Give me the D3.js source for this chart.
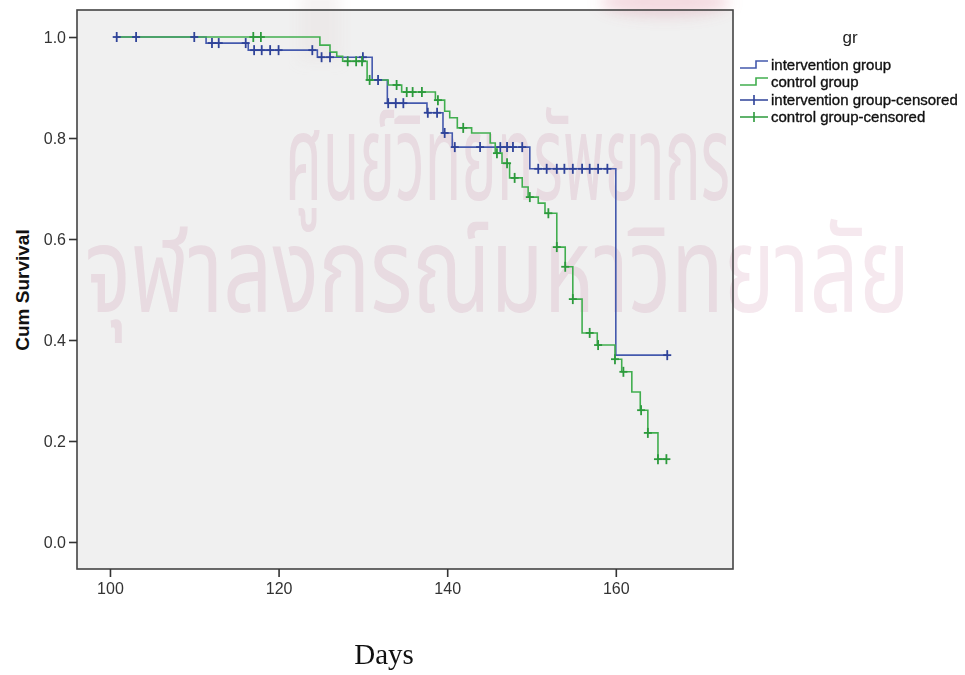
<!DOCTYPE html>
<html>
<head>
<meta charset="utf-8">
<script src="https://cdn.jsdelivr.net/npm/d3@7"></script>
<style>
  body { margin: 0; background: #ffffff; }
  svg { display: block; }
</style>
</head>
<body>
<div id="chart"></div>
<script>
// Kaplan-Meier curves: step times (days) and survival after each step
const groups = ["intervention group", "control group"];

const interStart = 100.8;
const interEnd = 166.1;
const interEventDays = [111.4, 116.4, 124.6, 131.1, 132.9, 137.6, 139.5, 140.6, 149.8, 160.0];
const interEventSurv = [0.988, 0.974, 0.960, 0.915, 0.869, 0.850, 0.810, 0.782, 0.739, 0.370];
const interCensorDays = [100.8, 103.1, 110.0, 112.1, 112.9, 116.1, 117.1, 118.0, 119.0, 120.0, 124.0,
  125.1, 126.1, 130.0, 131.8, 133.0, 133.9, 134.8, 137.7, 138.8, 139.7, 140.9, 143.9, 146.3, 147.1,
  147.8, 148.9, 150.8, 151.8, 153.0, 153.9, 154.9, 156.0, 156.9, 157.9, 159.0, 166.1];

const ctrlStart = 101.0;
const ctrlEnd = 166.0;
const ctrlEventDays = [124.9, 126.1, 126.9, 127.6, 130.5, 133.0, 134.6, 138.6, 139.7, 140.3, 141.2,
  142.9, 145.1, 145.7, 146.5, 147.4, 148.9, 149.6, 150.8, 151.6, 153.0, 154.0, 154.9, 156.0, 157.8,
  159.9, 160.7, 161.9, 162.9, 163.8, 165.0];
const ctrlEventSurv = [0.984, 0.970, 0.962, 0.952, 0.915, 0.905, 0.891, 0.875, 0.853, 0.840, 0.820,
  0.810, 0.790, 0.770, 0.750, 0.721, 0.703, 0.683, 0.671, 0.651, 0.584, 0.545, 0.481, 0.414, 0.390,
  0.362, 0.337, 0.297, 0.261, 0.216, 0.164];
const ctrlCensorDays = [117.0, 117.9, 128.2, 129.2, 129.9, 130.8, 134.0, 135.2, 135.9, 137.0, 138.9,
  141.9, 145.9, 147.1, 148.0, 149.8, 152.0, 153.0, 154.0, 154.9, 156.9, 157.9, 159.9, 160.9, 163.0,
  163.8, 165.0, 166.0];

const xTicks = [100, 120, 140, 160];
const yTicks = [0.0, 0.2, 0.4, 0.6, 0.8, 1.0];
const legendLabels = ["intervention group", "control group",
  "intervention group-censored", "control group-censored"];
const watermarkLines = ["ศูนย์วิทยทรัพยากร", "จุฬาลงกรณ์มหาวิทยาลัย"];

const width = 965, height = 675;
const plot = { left: 77, top: 10, right: 733, bottom: 569 };
const blue = "#4459ad", blueDark = "#2f4399";
const green = "#41ae4f", greenDark = "#2c9a3c";

const svg = d3.select("#chart").append("svg")
  .attr("width", width)
  .attr("height", height);

const defs = svg.append("defs");
defs.append("filter").attr("id", "blur")
  .attr("x", "-50%").attr("y", "-50%").attr("width", "200%").attr("height", "200%")
  .append("feGaussianBlur").attr("stdDeviation", 7);

const xScale = d3.scaleLinear()
  .domain([96.09, 173.9])
  .range([plot.left, plot.right]);

const yScale = d3.scaleLinear()
  .domain([-0.0535, 1.0535])
  .range([plot.bottom, plot.top]);

// plot background
svg.append("rect")
  .attr("x", plot.left)
  .attr("y", plot.top)
  .attr("width", plot.right - plot.left)
  .attr("height", plot.bottom - plot.top)
  .attr("fill", "#f0f0f0");

// faded emblem at the top of the watermark
const emblem = svg.append("g").attr("filter", "url(#blur)");
emblem.append("rect")
  .attr("x", 300).attr("y", -10).attr("width", 40).attr("height", 70)
  .attr("fill", "#e4dcdc").attr("opacity", 0.35);
emblem.append("ellipse")
  .attr("cx", 665).attr("cy", 2).attr("rx", 65).attr("ry", 14)
  .attr("fill", "#d87a8e").attr("opacity", 0.28);

// watermark (university stamp), sits behind the curves
const wm = svg.append("g").attr("fill", "#b3507a").attr("fill-opacity", 0.13)
  .attr("font-family", "'Noto Sans Thai', 'Noto Sans', 'DejaVu Sans', sans-serif");
wm.append("text")
  .attr("x", 285).attr("y", 200)
  .attr("font-size", 120)
  .attr("textLength", 445)
  .attr("lengthAdjust", "spacingAndGlyphs")
  .text(watermarkLines[0]);
wm.append("text")
  .attr("x", 85).attr("y", 312)
  .attr("font-size", 120)
  .attr("textLength", 825)
  .attr("lengthAdjust", "spacingAndGlyphs")
  .text(watermarkLines[1]);

function stepPoints(start, end, days, surv) {
  const pts = [[start, 1]];
  let s = 1;
  days.forEach(function(d, i) {
    pts.push([d, s]);
    s = surv[i];
    pts.push([d, s]);
  });
  pts.push([end, s]);
  return pts;
}

function survAt(t, days, surv) {
  let s = 1;
  days.forEach(function(d, i) { if (d <= t + 0.05) s = surv[i]; });
  return s;
}

const lineFunction = d3.line()
  .x(function(d) { return xScale(d[0]); })
  .y(function(d) { return yScale(d[1]); });

svg.append("path")
  .datum(stepPoints(interStart, interEnd, interEventDays, interEventSurv))
  .attr("d", lineFunction)
  .attr("fill", "none")
  .attr("stroke", blue)
  .attr("stroke-width", 1.6);

svg.append("path")
  .datum(stepPoints(ctrlStart, ctrlEnd, ctrlEventDays, ctrlEventSurv))
  .attr("d", lineFunction)
  .attr("fill", "none")
  .attr("stroke", green)
  .attr("stroke-width", 1.6);

function drawCensors(days, evDays, evSurv, color) {
  const g = svg.append("g").attr("stroke", color).attr("stroke-width", 1.8);
  days.forEach(function(t) {
    const cx = xScale(t), cy = yScale(survAt(t, evDays, evSurv));
    g.append("line").attr("x1", cx - 4).attr("x2", cx + 4).attr("y1", cy).attr("y2", cy);
    g.append("line").attr("x1", cx).attr("x2", cx).attr("y1", cy - 5).attr("y2", cy + 5);
  });
}
drawCensors(interCensorDays, interEventDays, interEventSurv, blueDark);
drawCensors(ctrlCensorDays, ctrlEventDays, ctrlEventSurv, greenDark);

svg.append("rect")
  .attr("x", plot.left)
  .attr("y", plot.top)
  .attr("width", plot.right - plot.left)
  .attr("height", plot.bottom - plot.top)
  .attr("fill", "none")
  .attr("stroke", "#444")
  .attr("stroke-width", 1.6);

// axes
const axisBottomFunction = d3.axisBottom(xScale)
  .tickValues(xTicks)
  .tickSize(8)
  .tickFormat(d3.format("d"));
const axisLeftFunction = d3.axisLeft(yScale)
  .tickValues(yTicks)
  .tickSize(8)
  .tickFormat(d3.format(".1f"));

const xAxis = svg.append("g")
  .attr("transform", "translate(0," + plot.bottom + ")")
  .call(axisBottomFunction);
const yAxis = svg.append("g")
  .attr("transform", "translate(" + plot.left + ",0)")
  .call(axisLeftFunction);

[xAxis, yAxis].forEach(function(a) {
  a.select(".domain").remove();
  a.selectAll(".tick line").attr("stroke", "#333").attr("stroke-width", 1.6);
  a.selectAll(".tick text")
    .attr("fill", "#333")
    .attr("font-family", "'Liberation Sans', Arial, sans-serif")
    .attr("font-size", 16);
});
xAxis.selectAll(".tick text").attr("dy", "0.9em");
yAxis.selectAll(".tick text").attr("x", -11);

svg.append("text")
  .attr("transform", "translate(29,290) rotate(-90)")
  .attr("text-anchor", "middle")
  .attr("font-family", "'Liberation Sans', Arial, sans-serif")
  .attr("font-weight", "bold")
  .attr("font-size", 19)
  .attr("fill", "#111")
  .text("Cum Survival");

svg.append("text")
  .attr("x", 384)
  .attr("y", 664)
  .attr("text-anchor", "middle")
  .attr("font-family", "'Liberation Serif', 'Times New Roman', serif")
  .attr("font-size", 29)
  .attr("fill", "#111")
  .text("Days");

// legend
const legend = svg.append("g")
  .attr("font-family", "'Liberation Sans', Arial, sans-serif");
legend.append("text")
  .attr("x", 850).attr("y", 43)
  .attr("text-anchor", "middle")
  .attr("font-size", 17)
  .attr("fill", "#222")
  .text("gr");

const rowY = [65, 82, 100, 117];
const legendColors = [blue, green, blueDark, greenDark];
legendLabels.forEach(function(label, i) {
  const y = rowY[i];
  if (i < 2) {
    legend.append("path")
      .attr("d", "M740," + (y + 3) + "H756V" + (y - 4) + "H768")
      .attr("fill", "none")
      .attr("stroke", legendColors[i])
      .attr("stroke-width", 1.6);
  } else {
    legend.append("path")
      .attr("d", "M740," + y + "H768M754," + (y - 5) + "V" + (y + 5))
      .attr("stroke", legendColors[i])
      .attr("stroke-width", 1.6);
  }
  legend.append("text")
    .attr("x", 771).attr("y", y)
    .attr("dy", "0.35em")
    .attr("font-size", 15)
    .attr("fill", "#111")
    .attr("stroke", "#111")
    .attr("stroke-width", 0.35)
    .text(label);
});
</script>
</body>
</html>
